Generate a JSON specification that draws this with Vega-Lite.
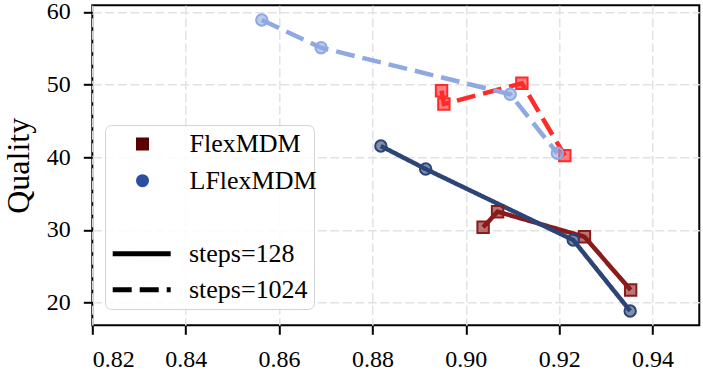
{
  "$schema": "https://vega.github.io/schema/vega-lite/v6.json",
  "width": 607,
  "height": 320,
  "autosize": {"type": "none"},
  "padding": {"left": 92.3, "top": 5.3, "right": 3.7, "bottom": 52.4},
  "background": "white",
  "config": {
    "font": "Liberation Serif",
    "view": {"stroke": "black", "strokeWidth": 2},
    "axis": {
      "grid": true, "gridColor": "#e2e2e2", "gridDash": [9, 3.5], "gridWidth": 1.5,
      "domain": false, "tickColor": "black", "tickWidth": 2, "tickSize": 9,
      "labelFont": "Liberation Serif", "labelFontSize": 24, "labelColor": "black",
      "titleFont": "Liberation Serif", "titleFontSize": 32, "titleFontWeight": "normal", "titleColor": "black"
    },
    "legend": {
      "labelFont": "Liberation Serif", "labelFontSize": 26, "labelColor": "black", "titleFont": "Liberation Serif"
    }
  },
  "data": {
    "values": [
      {"model": "FlexMDM", "steps": "steps=128", "series": "FlexMDM 128", "idx": 1, "fidelity": 0.9037, "quality": 30.36},
      {"model": "FlexMDM", "steps": "steps=128", "series": "FlexMDM 128", "idx": 2, "fidelity": 0.9068, "quality": 32.51},
      {"model": "FlexMDM", "steps": "steps=128", "series": "FlexMDM 128", "idx": 3, "fidelity": 0.9254, "quality": 29.06},
      {"model": "FlexMDM", "steps": "steps=128", "series": "FlexMDM 128", "idx": 4, "fidelity": 0.9353, "quality": 21.73},
      {"model": "FlexMDM", "steps": "steps=1024", "series": "FlexMDM 1024", "idx": 1, "fidelity": 0.8948, "quality": 49.16},
      {"model": "FlexMDM", "steps": "steps=1024", "series": "FlexMDM 1024", "idx": 2, "fidelity": 0.8953, "quality": 47.33},
      {"model": "FlexMDM", "steps": "steps=1024", "series": "FlexMDM 1024", "idx": 3, "fidelity": 0.9120, "quality": 50.18},
      {"model": "FlexMDM", "steps": "steps=1024", "series": "FlexMDM 1024", "idx": 4, "fidelity": 0.9212, "quality": 40.22},
      {"model": "LFlexMDM", "steps": "steps=128", "series": "LFlexMDM 128", "idx": 1, "fidelity": 0.8818, "quality": 41.55},
      {"model": "LFlexMDM", "steps": "steps=128", "series": "LFlexMDM 128", "idx": 2, "fidelity": 0.8914, "quality": 38.38},
      {"model": "LFlexMDM", "steps": "steps=128", "series": "LFlexMDM 128", "idx": 3, "fidelity": 0.9230, "quality": 28.61},
      {"model": "LFlexMDM", "steps": "steps=128", "series": "LFlexMDM 128", "idx": 4, "fidelity": 0.9352, "quality": 18.84},
      {"model": "LFlexMDM", "steps": "steps=1024", "series": "LFlexMDM 1024", "idx": 1, "fidelity": 0.8563, "quality": 58.90},
      {"model": "LFlexMDM", "steps": "steps=1024", "series": "LFlexMDM 1024", "idx": 2, "fidelity": 0.8690, "quality": 55.08},
      {"model": "LFlexMDM", "steps": "steps=1024", "series": "LFlexMDM 1024", "idx": 3, "fidelity": 0.9095, "quality": 48.67},
      {"model": "LFlexMDM", "steps": "steps=1024", "series": "LFlexMDM 1024", "idx": 4, "fidelity": 0.9196, "quality": 40.55}
    ]
  },
  "layer": [
    {
      "mark": {"type": "line", "strokeWidth": 4.5, "strokeCap": "butt"},
      "encoding": {
        "x": {"field": "fidelity", "type": "quantitative",
              "scale": {"domain": [0.82, 0.95], "nice": false, "zero": false},
              "axis": {"values": [0.82, 0.84, 0.86, 0.88, 0.90, 0.92, 0.94], "format": ".2f", "title": null, "labelPadding": 13.5}},
        "y": {"field": "quality", "type": "quantitative",
              "scale": {"domain": [16.87, 60.92], "nice": false, "zero": false},
              "axis": {"values": [20, 30, 40, 50, 60], "title": "Quality", "labelPadding": 13, "titlePadding": 11}},
        "stroke": {"field": "series", "type": "nominal",
                   "scale": {"domain": ["FlexMDM 128", "FlexMDM 1024", "LFlexMDM 128", "LFlexMDM 1024"],
                             "range": ["#8b1a1a", "#ff2a2a", "#2c4476", "#8fa9e2"]},
                   "legend": null},
        "strokeDash": {"field": "steps", "type": "nominal",
                       "scale": {"domain": ["steps=128", "steps=1024"], "range": [[1, 0], [19, 8]]},
                       "legend": {"orient": "none", "legendX": 12.7, "legendY": 119.7,
                                  "title": ["\u00a0\u00a0\u00a0\u00a0\u00a0\u00a0\u00a0\u00a0\u00a0\u00a0\u00a0\u00a0\u00a0\u00a0\u00a0\u00a0\u00a0\u00a0\u00a0\u00a0\u00a0\u00a0\u00a0\u00a0\u00a0\u00a0\u00a0\u00a0\u00a0\u00a0\u00a0\u00a0", "\u00a0", "\u00a0"],
                                  "titleFontSize": 26, "titleLineHeight": 30, "titlePadding": 23.7, "titleLimit": 400,
                                  "padding": 6, "fillColor": "rgba(255,255,255,0.85)", "strokeColor": "#d3d3d3", "cornerRadius": 6,
                                  "symbolType": "M-2.9,0H2.9", "symbolSize": 400, "symbolStrokeWidth": 5,
                                  "symbolStrokeColor": "black", "symbolOpacity": 1, "symbolOffset": 17.7, "labelOffset": 34.3, "rowPadding": 10}},
        "order": {"field": "idx", "type": "quantitative"}
      }
    },
    {
      "mark": {"type": "point", "filled": true, "size": 130, "fillOpacity": 0.6, "strokeOpacity": 1, "strokeWidth": 2, "opacity": 1},
      "encoding": {
        "x": {"field": "fidelity", "type": "quantitative"},
        "y": {"field": "quality", "type": "quantitative"},
        "color": {"field": "series", "type": "nominal",
                  "scale": {"domain": ["FlexMDM 128", "FlexMDM 1024", "LFlexMDM 128", "LFlexMDM 1024"],
                            "range": ["#8b1a1a", "#ff2a2a", "#2c4476", "#8fa9e2"]},
                  "legend": null},
        "stroke": {"field": "series", "type": "nominal", "legend": null},
        "shape": {"field": "model", "type": "nominal",
                  "scale": {"domain": ["FlexMDM", "LFlexMDM"], "range": ["square", "circle"]},
                  "legend": {"orient": "none", "legendX": 18.7, "legendY": 125.7, "title": null, "padding": 0,
                             "symbolSize": 170, "symbolOffset": 18.5, "labelOffset": 34, "rowPadding": 10.7,
                             "symbolStrokeWidth": 0, "symbolOpacity": 1}}
      }
    },
    {
      "mark": {"type": "point", "filled": true, "size": 0},
      "encoding": {
        "x": {"field": "fidelity", "type": "quantitative"},
        "y": {"field": "quality", "type": "quantitative"},
        "fill": {"field": "model", "type": "nominal",
                 "scale": {"domain": ["FlexMDM", "LFlexMDM"], "range": ["#5a0000", "#2a4fa0"]},
                 "legend": {"orient": "none", "legendX": 18.7, "legendY": 125.7, "title": null, "padding": 0,
                            "symbolSize": 170, "symbolOffset": 18.5, "labelOffset": 34, "rowPadding": 10.7,
                            "symbolStrokeWidth": 0, "symbolOpacity": 1}},
        "shape": {"field": "model", "type": "nominal",
                  "legend": {"orient": "none", "legendX": 18.7, "legendY": 125.7, "title": null, "padding": 0,
                             "symbolSize": 170, "symbolOffset": 18.5, "labelOffset": 34, "rowPadding": 10.7,
                             "symbolStrokeWidth": 0, "symbolOpacity": 1}}
      }
    }
  ]
}
